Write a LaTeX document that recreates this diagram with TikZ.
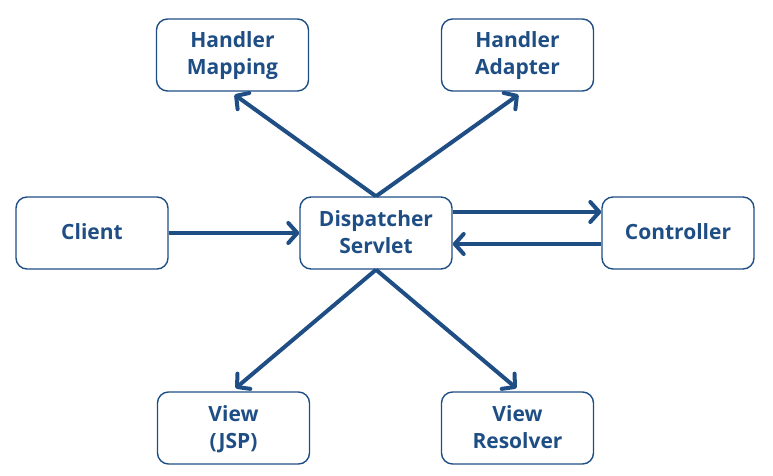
\documentclass[tikz,border=0pt]{standalone}
\usepackage{fontspec}
\setmainfont{Open Sans}
\usetikzlibrary{arrows.meta}
\definecolor{dblue}{HTML}{1F4E85}
\newcommand{\boxline}[1]{\rule[-1pt]{0pt}{15pt}\smash{#1}}
\begin{document}
\begin{tikzpicture}[x=1pt,y=-1pt,
  box/.style={draw=dblue, line width=1.4pt, rounded corners=11pt, minimum width=152pt, minimum height=72pt, align=center, text=dblue, font=\fontsize{21}{27}\selectfont\bfseries, inner sep=0pt},
  conn/.style={draw=dblue, line width=4pt, -{Straight Barb[length=9pt,width=20pt,line cap=round,line join=round]}}]
\useasboundingbox (0,0) rectangle (773,476);
\node[box] (hm) at (232.5,55) {\boxline{Handler}\\\boxline{Mapping}};
\node[box] (ha) at (517.5,55) {\boxline{Handler}\\\boxline{Adapter}};
\node[box] (cl) at (92,233) {\boxline{Client}};
\node[box] (ds) at (376,233) {\boxline{Dispatcher}\\\boxline{Servlet}};
\node[box] (co) at (678,233) {\boxline{Controller}};
\node[box] (vj) at (233.5,428) {\boxline{View}\\\boxline{(JSP)}};
\node[box] (vr) at (517.5,428) {\boxline{View}\\\boxline{Resolver}};
\draw[conn] (cl.east) -- (ds.west);
\draw[conn] ([yshift=21pt]ds.east) -- ([yshift=21pt]co.west);
\draw[conn] ([yshift=-11pt]co.west) -- ([yshift=-11pt]ds.east);
\draw[conn] (ds.north) -- ([xshift=2pt,yshift=-3pt]hm.south);
\draw[conn] (ds.north) -- ([xshift=1pt,yshift=-3pt]ha.south);
\draw[conn] (ds.south) -- ([xshift=2pt,yshift=3pt]vj.north);
\draw[conn] (ds.south) -- ([xshift=-1pt,yshift=3pt]vr.north);
\end{tikzpicture}
\end{document}
